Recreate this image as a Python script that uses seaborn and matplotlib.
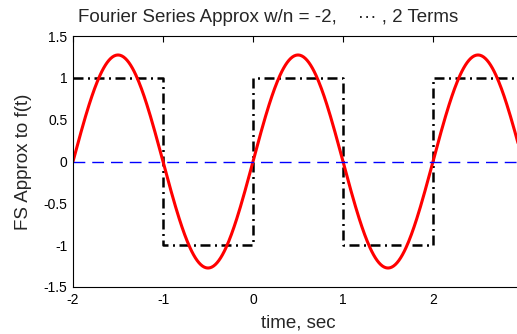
import numpy as np
import pandas as pd
import matplotlib
matplotlib.use("Agg")
import matplotlib.pyplot as plt
import seaborn as sns

sns.set_theme(style="white")
plt.rcParams["font.family"] = ["Liberation Sans", "DejaVu Sans"]

# Square wave f(t): level between successive breakpoints
edges = [-2, -1, 0, 1, 2, 3]
levels = [1, -1, 1, -1, 1]

# Complex Fourier coefficients c_n for n = -2..2 (real and imaginary parts)
harmonics = [-2, -1, 0, 1, 2]
coef_re = [0.0, 0.0, 0.0, 0.0, 0.0]
coef_im = [0.0, 0.6366, 0.0, -0.6366, 0.0]
period = 2.0

xticks = [-2, -1, 0, 1, 2]
yticks = [-1.5, -1, -0.5, 0, 0.5, 1, 1.5]

# Partial Fourier sum evaluated on a time grid
t = np.linspace(-2, 3, 501)
w0 = 2 * np.pi / period
c = np.array(coef_re) + 1j * np.array(coef_im)
fs = np.real(sum(cn * np.exp(1j * n * w0 * t) for n, cn in zip(harmonics, c)))

sq = pd.DataFrame({"t": edges, "f": levels + [levels[-1]]})
approx = pd.DataFrame({"t": t, "f": fs})
zero = pd.DataFrame({"t": [edges[0], edges[-1]], "f": [0, 0]})

fig = plt.figure(figsize=(5.17, 3.34), dpi=100)
ax = fig.add_axes([73 / 517, 47 / 334, 450 / 517, 251 / 334])

sns.lineplot(data=sq, x="t", y="f", ax=ax, color="black", lw=1.8,
             linestyle=(0, (4, 1.8, 0.8, 1.8)), drawstyle="steps-post")
sns.lineplot(data=approx, x="t", y="f", ax=ax, color="red", lw=2.2)
sns.lineplot(data=zero, x="t", y="f", ax=ax, color="blue", lw=1.0,
             linestyle=(0, (8.5, 5)))

ax.set_xlim(-2, 3)
ax.set_ylim(-1.5, 1.5)
ax.set_xticks(xticks)
ax.set_xticklabels([str(v) for v in xticks])
ax.set_yticks(yticks)
ax.set_yticklabels(["-1.5", "-1", "-0.5", "0", "0.5", "1", "1.5"])
ax.tick_params(direction="in", length=4, width=0.8, colors="black",
               labelsize=10, top=True, right=True, pad=4)
for s in ax.spines.values():
    s.set_color("black")
    s.set_linewidth(0.8)

ax.set_xlabel("time, sec", fontsize=13.5, labelpad=6)
ax.set_ylabel("FS Approx to f(t)", fontsize=13.5, labelpad=8)
fig.text(268 / 517, 1 - 17 / 334,
         "Fourier Series Approx w/n = -2,    \u00b7\u00b7\u00b7 , 2 Terms",
         fontsize=13.5, ha="center", va="center")

fig.savefig("out.png", dpi=100, facecolor="white")
